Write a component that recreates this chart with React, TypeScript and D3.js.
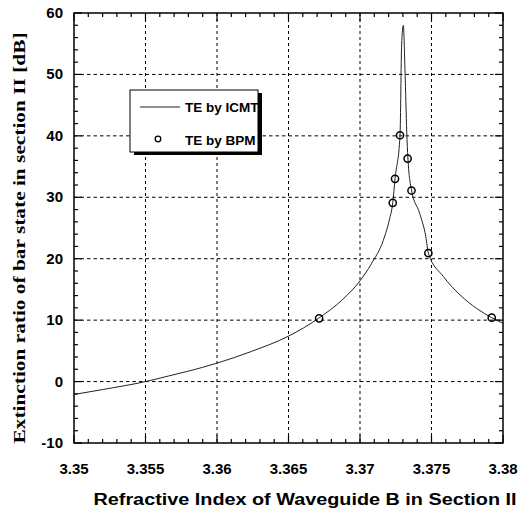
import React from "react";
import * as d3 from "d3";

const icmtN = [3.35, 3.352, 3.355, 3.3566, 3.358, 3.36, 3.3624, 3.365, 3.3671, 3.3688, 3.37, 3.3708, 3.37163, 3.37205, 3.37229, 3.37245, 3.3728, 3.37291, 3.37303, 3.37315, 3.37327, 3.37335, 3.3736, 3.37417, 3.3746, 3.37478, 3.37583, 3.377, 3.37816, 3.37921, 3.38];
const icmtV = [-2.1, -1.3, 0, 0.9, 1.7, 3.0, 4.9, 7.4, 10.3, 13.4, 16.4, 19.2, 23.0, 26.3, 29.1, 33.0, 40.1, 54.8, 58.0, 50.4, 40.6, 36.4, 31.2, 27.4, 23.6, 20.9, 17.1, 14.1, 11.9, 10.4, 9.5];

const bpmN = [3.36714, 3.37229, 3.37245, 3.3728, 3.37333, 3.3736, 3.37478, 3.37921];
const bpmV = [10.3, 29.1, 33.0, 40.1, 36.3, 31.1, 20.9, 10.4];

const xTicks = [3.35, 3.355, 3.36, 3.365, 3.37, 3.375, 3.38];
const xTickLabels = ["3.35", "3.355", "3.36", "3.365", "3.37", "3.375", "3.38"];
const yTicks = [-10, 0, 10, 20, 30, 40, 50, 60];
const yTickLabels = ["-10", "0", "10", "20", "30", "40", "50", "60"];

const legendLabels = ["TE by ICMT", "TE by BPM"];
const xTitle = "Refractive Index of Waveguide B in Section II";
const yTitle = "Extinction ratio of bar state in section II [dB]";

export default function App() {
  const W = 527, H = 511;
  const L = 74, R = 503, T = 13, B = 443;
  const x = d3.scaleLinear().domain([3.35, 3.38]).range([L, R]);
  const y = d3.scaleLinear().domain([-10, 60]).range([B, T]);

  const minorX = d3.range(0, 31).map((i) => 3.35 + i * 0.001).filter((_, i) => i % 5 !== 0);
  const minorY = d3.range(-10, 61, 2).filter((v) => v % 10 !== 0);

  const pts = icmtN.map((n, i) => [n, icmtV[i]] as [number, number]);
  const line = d3.line<[number, number]>().x((d) => x(d[0])).y((d) => y(d[1])).curve(d3.curveMonotoneX);

  const sans = "'Liberation Sans', Arial, sans-serif";
  const serif = "'Liberation Serif', 'Times New Roman', serif";

  return (
    <svg width={W} height={H} style={{ position: "absolute", left: 0, top: 0, background: "#fff" }}>
      <rect x={0} y={0} width={W} height={H} fill="#fff" />
      {/* grid */}
      {xTicks.slice(1, -1).map((t) => (
        <line key={"gx" + t} x1={x(t)} x2={x(t)} y1={T} y2={B} stroke="#000" strokeWidth={1} strokeDasharray="3,3" />
      ))}
      {yTicks.slice(1, -1).map((t) => (
        <line key={"gy" + t} x1={L} x2={R} y1={y(t)} y2={y(t)} stroke="#000" strokeWidth={1} strokeDasharray="3.5,3" />
      ))}
      {/* ticks */}
      {xTicks.map((t) => (
        <g key={"tx" + t}>
          <line x1={x(t)} x2={x(t)} y1={B} y2={B - 8} stroke="#000" strokeWidth={1.2} />
          <line x1={x(t)} x2={x(t)} y1={T} y2={T + 8} stroke="#000" strokeWidth={1.2} />
        </g>
      ))}
      {minorX.map((t) => (
        <g key={"mx" + t}>
          <line x1={x(t)} x2={x(t)} y1={B} y2={B - 4} stroke="#000" strokeWidth={1.2} />
          <line x1={x(t)} x2={x(t)} y1={T} y2={T + 4} stroke="#000" strokeWidth={1.2} />
        </g>
      ))}
      {yTicks.map((t) => (
        <g key={"ty" + t}>
          <line x1={L} x2={L + 8} y1={y(t)} y2={y(t)} stroke="#000" strokeWidth={1.2} />
          <line x1={R} x2={R - 8} y1={y(t)} y2={y(t)} stroke="#000" strokeWidth={1.2} />
        </g>
      ))}
      {minorY.map((t) => (
        <g key={"my" + t}>
          <line x1={L} x2={L + 4} y1={y(t)} y2={y(t)} stroke="#000" strokeWidth={1.2} />
          <line x1={R} x2={R - 4} y1={y(t)} y2={y(t)} stroke="#000" strokeWidth={1.2} />
        </g>
      ))}
      {/* frame */}
      <rect x={L} y={T} width={R - L} height={B - T} fill="none" stroke="#000" strokeWidth={1.5} />
      {/* curve */}
      <path d={line(pts) || ""} fill="none" stroke="#222" strokeWidth={1} />
      {/* bpm points */}
      {bpmN.map((n, i) => (
        <circle key={"c" + i} cx={x(n)} cy={y(bpmV[i])} r={3.6} fill="none" stroke="#000" strokeWidth={1.5} />
      ))}
      {/* tick labels */}
      {xTicks.map((t, i) => (
        <text key={"xl" + t} x={x(t)} y={474} textAnchor="middle" fontFamily={sans} fontWeight="bold" fontSize={15} fill="#000">
          {xTickLabels[i]}
        </text>
      ))}
      {yTicks.map((t, i) => (
        <text key={"yl" + t} x={63} y={y(t) + 5} textAnchor="end" fontFamily={sans} fontWeight="bold" fontSize={15} fill="#000">
          {yTickLabels[i]}
        </text>
      ))}
      {/* titles */}
      <text x={305} y={505} textAnchor="middle" fontFamily={sans} fontWeight="bold" fontSize={16} textLength={423} lengthAdjust="spacingAndGlyphs" fill="#000">
        {xTitle}
      </text>
      <text transform={`translate(25,238) rotate(-90)`} textAnchor="middle" fontFamily={serif} fontWeight="bold" fontSize={17} textLength={411} lengthAdjust="spacingAndGlyphs" fill="#000">
        {yTitle}
      </text>
      {/* legend */}
      <rect x={134} y={93} width={128} height={62} fill="#000" />
      <rect x={130} y={90} width={128} height={62} fill="#fff" stroke="#000" strokeWidth={1} />
      <line x1={140} x2={180} y1={107} y2={107} stroke="#222" strokeWidth={1} />
      <text x={185} y={112} fontFamily={sans} fontWeight="bold" fontSize={13.5} fill="#000">{legendLabels[0]}</text>
      <circle cx={158} cy={139} r={2.8} fill="none" stroke="#000" strokeWidth={1.3} />
      <text x={185} y={145} fontFamily={sans} fontWeight="bold" fontSize={13.5} fill="#000">{legendLabels[1]}</text>
    </svg>
  );
}
